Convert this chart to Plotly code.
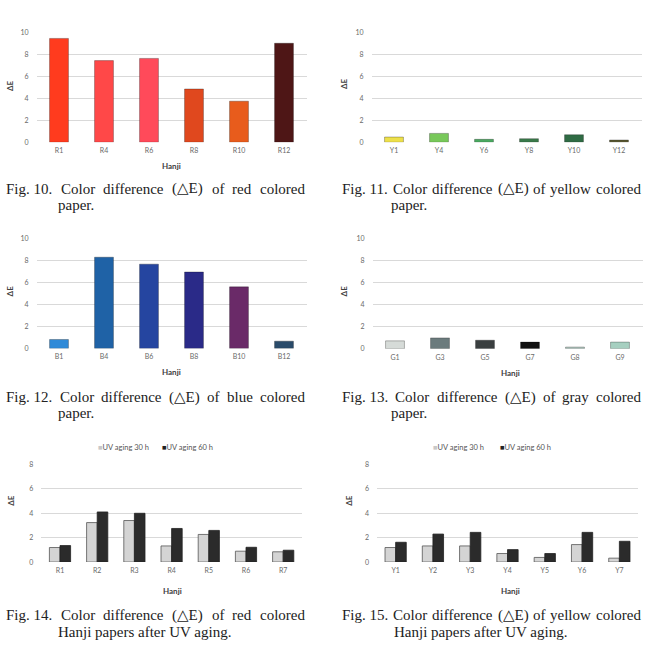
import plotly.graph_objects as go

W, H = 645, 651

# ---------------- data ----------------
red_cats = ["R1", "R4", "R6", "R8", "R10", "R12"]
red_vals = [9.45, 7.43, 7.63, 4.85, 3.74, 9.01]
red_colors = ["#ff3b1e", "#ff4848", "#ff4a5a", "#e0481e", "#e85c1c", "#4e1616"]

yel_cats = ["Y1", "Y4", "Y6", "Y8", "Y10", "Y12"]
yel_vals = [0.48, 0.81, 0.27, 0.33, 0.69, 0.21]
yel_colors = ["#ede04a", "#78c85a", "#4aa860", "#3a7a4a", "#2f6b44", "#5b5a32"]

blue_cats = ["B1", "B4", "B6", "B8", "B10", "B12"]
blue_vals = [0.81, 8.27, 7.64, 6.93, 5.58, 0.66]
blue_colors = ["#2f8ad8", "#1f62a6", "#2545a0", "#2a2a88", "#6a2a68", "#2a4b6a"]

gray_cats = ["G1", "G3", "G5", "G7", "G8", "G9"]
gray_vals = [0.71, 0.98, 0.77, 0.60, 0.15, 0.60]
gray_colors = ["#d6dbd8", "#6b7b7d", "#3a3f40", "#111111", "#b5ccc4", "#a6cfc0"]

uvr_cats = ["R1", "R2", "R3", "R4", "R5", "R6", "R7"]
uvr_30 = [1.19, 3.23, 3.40, 1.32, 2.26, 0.89, 0.84]
uvr_60 = [1.35, 4.10, 3.99, 2.75, 2.59, 1.21, 0.97]

uvy_cats = ["Y1", "Y2", "Y3", "Y4", "Y5", "Y6", "Y7"]
uvy_30 = [1.19, 1.32, 1.32, 0.70, 0.38, 1.43, 0.32]
uvy_60 = [1.62, 2.29, 2.43, 1.02, 0.70, 2.43, 1.70]

series_names = ["UV aging 30 h", "UV aging 60 h"]
c30, c60 = "#d4d4d4", "#2b2b2b"

captions = [
    ("Fig. 10. Color difference (△E) of red colored", "paper."),
    ("Fig. 11. Color difference (△E) of yellow colored", "paper."),
    ("Fig. 12. Color difference (△E) of blue colored", "paper."),
    ("Fig. 13. Color difference (△E) of gray colored", "paper."),
    ("Fig. 14. Color difference (△E) of red colored", "Hanji papers after UV aging."),
    ("Fig. 15. Color difference (△E) of yellow colored", "Hanji papers after UV aging."),
]

# ---------------- helpers ----------------
def px(x):
    return x / W

def py(y):
    return 1 - y / H

TICKFONT = dict(family="Lato, Open Sans, sans-serif", size=7, color="#6a6a6a")
LABFONT = dict(family="Lato, Open Sans, sans-serif", size=8, color="#404040")
CAP_SIZE = 15
CAPFONT = dict(family="Liberation Serif, DejaVu Serif, serif", size=CAP_SIZE, color="#222222")

# approximate Times/Liberation Serif advance widths (per 1000 em)
TW = {"F": 556, "i": 278, "g": 500, ".": 250, " ": 250, "C": 667, "o": 500,
      "l": 278, "r": 333, "d": 500, "f": 333, "e": 444, "n": 500, "c": 444,
      "(": 333, ")": 333, "E": 611, "y": 500, "w": 722, "b": 500, "u": 500,
      "a": 444, "△": 770, "p": 500}

def tw(s):
    return sum(TW.get(ch, 500) for ch in s) / 1000 * CAP_SIZE

fig = go.Figure()
layout = dict(
    width=W, height=H, margin=dict(l=0, r=0, t=0, b=0),
    paper_bgcolor="white", plot_bgcolor="white",
    showlegend=False, bargap=0.43, bargroupgap=0.0, barmode="group",
    annotations=[],
)

# (x0, x1, ytop, ybottom, ymax)
panels = [
    (36.5, 306.5, 27.7, 139.0, 10),
    (371.5, 641.5, 27.7, 139.0, 10),
    (36.5, 306.5, 236.0, 347.7, 10),
    (372.5, 642.5, 236.0, 348.0, 10),
    (41.4, 301.8, 465.0, 564.0, 8),
    (377.0, 638.0, 465.0, 564.0, 8),
]

for i, (x0, x1, yt, yb, ymax) in enumerate(panels, start=1):
    sfx = "" if i == 1 else str(i)
    layout["xaxis" + sfx] = dict(
        domain=[px(x0), px(x1)], anchor="y" + sfx, type="category",
        showgrid=False, showline=False, zeroline=False, ticks="",
        tickfont=TICKFONT, ticklabelstandoff=3,
    )
    layout["yaxis" + sfx] = dict(
        domain=[py(yb), py(yt)], anchor="x" + sfx, range=[0, ymax],
        dtick=2, showgrid=True, gridcolor="#d9d9d9", gridwidth=1,
        showline=False, zeroline=False, ticks="", tickfont=TICKFONT,
        ticklabelstandoff=7,
    )

single = [
    (red_cats, red_vals, red_colors),
    (yel_cats, yel_vals, yel_colors),
    (blue_cats, blue_vals, blue_colors),
    (gray_cats, gray_vals, gray_colors),
]
for i, (cats, vals, cols) in enumerate(single, start=1):
    sfx = "" if i == 1 else str(i)
    fig.add_trace(go.Bar(
        x=cats, y=vals, width=0.42,
        marker=dict(color=cols, line=dict(color="rgba(0,0,0,0.35)", width=0.8)),
        xaxis="x" + sfx, yaxis="y" + sfx, showlegend=False,
    ))

for i, (cats, v30, v60) in [(5, (uvr_cats, uvr_30, uvr_60)), (6, (uvy_cats, uvy_30, uvy_60))]:
    sfx = str(i)
    fig.add_trace(go.Bar(
        x=cats, y=v30, name=series_names[0],
        marker=dict(color=c30, line=dict(color="#555555", width=0.8)),
        xaxis="x" + sfx, yaxis="y" + sfx, showlegend=False,
    ))
    fig.add_trace(go.Bar(
        x=cats, y=v60, name=series_names[1],
        marker=dict(color=c60, line=dict(color="#222222", width=0.8)),
        xaxis="x" + sfx, yaxis="y" + sfx, showlegend=False,
    ))

ann = layout["annotations"]

def text(x, y, s, font, xanchor="center", angle=0):
    ann.append(dict(
        x=px(x), y=py(y), xref="paper", yref="paper", text=s,
        showarrow=False, font=font, xanchor=xanchor, yanchor="middle",
        textangle=angle,
    ))

bold_lab = dict(LABFONT, weight="bold")

# axis titles
for (x, y) in [(10, 82), (344, 80), (10, 290), (344, 290), (11, 502), (349, 502)]:
    text(x, y, "ΔE", bold_lab, angle=-90)
for (x, y) in [(171, 163), (171, 372), (510, 373), (172, 593), (510, 593)]:
    text(x, y, "Hanji", bold_lab)

# legends
leg_font = dict(family="Lato, Open Sans, sans-serif", size=7.5, color="#555555")
def legend(xa, xb, y):
    text(xa, y, "<span style='color:#c8c8c8'>■</span>" + series_names[0], leg_font, xanchor="left")
    text(xb, y, "<span style='color:#222'>■</span>" + series_names[1], leg_font, xanchor="left")
legend(96, 160, 448)
legend(431, 498, 448)

# captions: first line justified between x0 and x1, second line indented
def justify(line, x0, x1, y):
    toks = line.split(" ")
    toks = [toks[0] + " " + toks[1]] + toks[2:]
    widths = [tw(t) for t in toks]
    gap = (x1 - x0 - sum(widths)) / (len(toks) - 1)
    x = x0
    for t, wdt in zip(toks, widths):
        text(x, y, t, CAPFONT, xanchor="left")
        x += wdt + gap

cap_pos = [
    (4, 303, 186, 56, 202),
    (340, 639, 186, 389, 202),
    (4, 303, 397, 56, 413),
    (340, 639, 397, 389, 413),
    (4, 303, 618, 56, 635),
    (340, 639, 618, 392, 635),
]
for (l1, l2), (x0, x1, y1, x2, y2) in zip(captions, cap_pos):
    justify(l1, x0, x1, y1)
    text(x2, y2, l2, CAPFONT, xanchor="left")

fig.update_layout(**layout)
fig.write_html("out.html")
